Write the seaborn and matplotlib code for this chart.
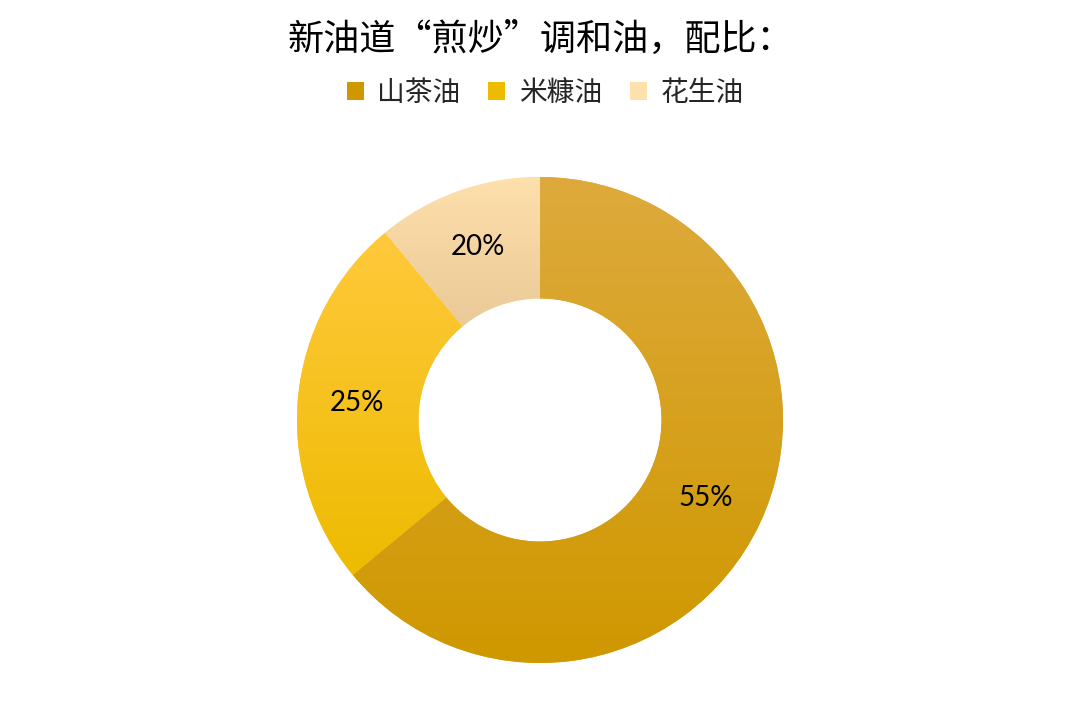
# donut chart: proporcion de aceites en la mezcla
import numpy as np
import matplotlib.pyplot as plt
import seaborn as sns
from matplotlib.colors import LinearSegmentedColormap
from matplotlib.patches import Patch

# datos
aceites   = ["山茶油", "米糠油", "花生油"]
porciones = [64, 25, 11]            # tamaño visible de cada sector
etiquetas = ["55%", "25%", "20%"]   # texto que aparece sobre cada sector
titulo    = "新油道“煎炒”调和油，配比："

# degradado arriba -> abajo de cada sector
GRAD = [
    ("#DEAA3C", "#CF9800"),
    ("#FFC93C", "#EDBB00"),
    ("#FEE0AC", "#EACA98"),
]

sns.set_theme(style="white")
plt.rcParams["font.family"] = ["Noto Sans CJK SC", "DejaVu Sans"]

fig = plt.figure(figsize=(10.8, 7.2), dpi=100)
R_PX = 243
ax = fig.add_axes([(540 - R_PX) / 1080, (720 - 420 - R_PX) / 720,
                   2 * R_PX / 1080, 2 * R_PX / 720])

it = iter(etiquetas)
wedges, textos, pcts = ax.pie(
    porciones, startangle=90, counterclock=False,
    colors=[g[0] for g in GRAD],
    wedgeprops=dict(width=0.5, linewidth=0),
    autopct=lambda p: next(it), pctdistance=0.755,
    textprops=dict(fontsize=20, family=["Lato", "DejaVu Sans"], color="black"),
)

# relleno con degradado vertical recortado a cada sector
grad_img = np.linspace(0, 1, 256).reshape(-1, 1)
for w, (c_top, c_bot) in zip(wedges, GRAD):
    ext = w.get_path().get_extents()
    cmap = LinearSegmentedColormap.from_list("g", [c_top, c_bot])
    im = ax.imshow(grad_img, cmap=cmap, aspect="auto", origin="upper",
                   extent=[ext.x0, ext.x1, ext.y0, ext.y1],
                   zorder=w.get_zorder() + 0.1)
    im.set_clip_path(w)
for t in pcts:
    t.set_zorder(5)

ax.set_xlim(-1, 1)
ax.set_ylim(-1, 1)
ax.set_aspect("equal")
ax.axis("off")

fig.text(0.5, 1 - 40 / 720, titulo, ha="center", va="center", fontsize=26, color="black")

handles = [Patch(facecolor=g[1] if i < 2 else g[0], edgecolor="none") for i, g in enumerate(GRAD)]
fig.legend(handles, aceites, loc="center", bbox_to_anchor=(0.505, 1 - 93 / 720),
           ncol=3, frameon=False, fontsize=20, handlelength=0.6, handleheight=0.6,
           handletextpad=0.5, columnspacing=1.0, labelcolor="#262626")

plt.savefig("out.png", dpi=100)
plt.close()
